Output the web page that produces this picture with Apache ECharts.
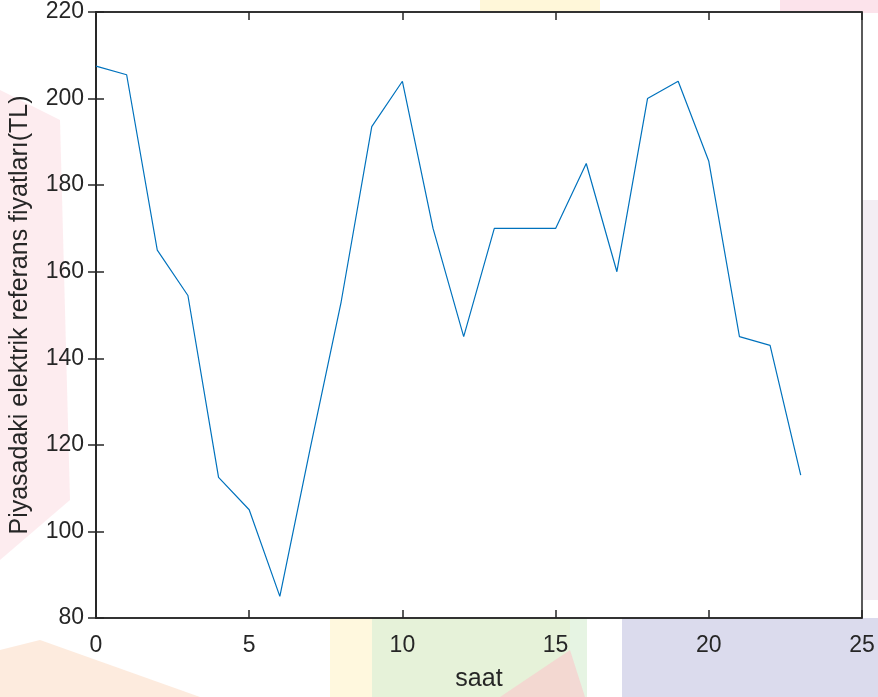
<!DOCTYPE html>
<html>
<head>
<meta charset="utf-8">
<script src="https://cdn.jsdelivr.net/npm/echarts@6/dist/echarts.min.js"></script>
<style>html,body{margin:0;padding:0;background:#fff}#c{width:878px;height:697px}</style>
</head>
<body>
<div id="c"></div>
<script>
const hours = [0,1,2,3,4,5,6,7,8,9,10,11,12,13,14,15,16,17,18,19,20,21,22,23];
const prices = [207.5,205.5,165,154.5,112.5,105,85,119.5,153,193.5,204,170,145,170,170,170,185,160,200,204,185.5,145,143,113];
const xTicks = [0,5,10,15,20,25];
const yTicks = [80,100,120,140,160,180,200,220];

const chart = echarts.init(document.getElementById('c'));
const font = 'Liberation Sans, Arial, sans-serif';
const axisCommon = {
  axisLine: {show: true, lineStyle: {color: '#262626', width: 1.5}},
  axisTick: {show: true, inside: true, length: 8, lineStyle: {color: '#262626', width: 1.5}},
  splitLine: {show: false}
};
chart.setOption({
  animation: false,
  backgroundColor: '#fff',
  graphic: [
    {type:'polygon', z:-10, shape:{points:[[0,90],[60,120],[70,500],[0,560]]}, style:{fill:'rgba(248,200,210,0.35)'}},
    {type:'rect', z:-10, shape:{x:480,y:0,width:120,height:13}, style:{fill:'rgba(255,240,180,0.5)'}},
    {type:'rect', z:-10, shape:{x:780,y:0,width:98,height:13}, style:{fill:'rgba(250,200,215,0.5)'}},
    {type:'rect', z:-10, shape:{x:862,y:200,width:16,height:400}, style:{fill:'rgba(235,225,235,0.6)'}},
    {type:'polygon', z:-10, shape:{points:[[0,650],[40,640],[200,697],[0,697]]}, style:{fill:'rgba(252,215,190,0.5)'}},
    {type:'rect', z:-10, shape:{x:330,y:618,width:240,height:79}, style:{fill:'rgba(255,244,200,0.6)'}},
    {type:'rect', z:-10, shape:{x:372,y:618,width:215,height:79}, style:{fill:'rgba(220,240,215,0.7)'}},
    {type:'polygon', z:-10, shape:{points:[[500,697],[570,650],[585,697]]}, style:{fill:'rgba(248,205,205,0.7)'}},
    {type:'rect', z:-10, shape:{x:622,y:618,width:256,height:79}, style:{fill:'rgba(215,215,235,0.9)'}}
  ],
  grid: {left: 94, right: 16, top: 12, bottom: 79, show: true, backgroundColor: '#fff', borderColor: '#262626', borderWidth: 1.5},
  xAxis: [
    Object.assign({
      type: 'value', min: 0, max: 25, interval: 5, position: 'bottom',
      name: 'saat', nameLocation: 'middle', nameGap: 49,
      nameTextStyle: {fontFamily: font, fontSize: 25, color: '#262626'},
      axisLabel: {fontFamily: font, fontSize: 23, color: '#262626', margin: 16,
        formatter: v => xTicks.includes(v) ? String(v) : ''}
    }, axisCommon),
    Object.assign({type: 'value', min: 0, max: 25, interval: 5, position: 'top', axisLabel: {show: false}}, axisCommon)
  ],
  yAxis: [
    Object.assign({
      type: 'value', min: 80, max: 220, interval: 20, position: 'left',
      name: 'Piyasadaki elektrik referans fiyatları(TL)', nameLocation: 'middle', nameGap: 63,
      nameTextStyle: {fontFamily: font, fontSize: 25, color: '#262626'},
      axisLabel: {fontFamily: font, fontSize: 23, color: '#262626', margin: 12,
        formatter: v => yTicks.includes(v) ? String(v) : ''}
    }, axisCommon),
    Object.assign({type: 'value', min: 80, max: 220, interval: 20, position: 'right', axisLabel: {show: false}}, axisCommon)
  ],
  series: [{
    type: 'line',
    data: hours.map((h, i) => [h, prices[i]]),
    showSymbol: false,
    lineStyle: {color: '#0072BD', width: 1.2},
    itemStyle: {color: '#0072BD'}
  }]
});
</script>
</body>
</html>
